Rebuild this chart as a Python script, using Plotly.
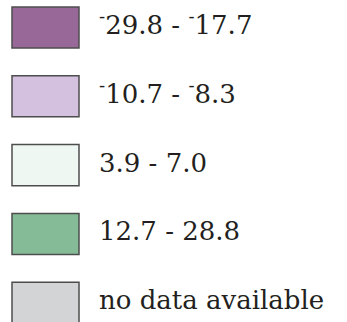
import plotly.graph_objects as go

# legend classes (top to bottom)
labels = [
    "<sup>-</sup>29.8 - <sup>-</sup>17.7",
    "<sup>-</sup>10.7 - <sup>-</sup>8.3",
    "3.9 - 7.0",
    "12.7 - 28.8",
    "no data available",
]
colors = ["#976898", "#d4c1df", "#eff7f2", "#86bb98", "#d3d4d6"]
keys = ["c1", "c2", "c3", "c4", "c5"]
swatch_len = [67, 67, 67, 67, 67]
text_x = [99, 99, 99, 99, 99]

fig = go.Figure()
fig.add_trace(go.Bar(
    y=keys, x=swatch_len, base=12,
    orientation="h",
    width=0.596,
    marker=dict(color=colors, line=dict(color="#4d4d4d", width=1.5)),
    hoverinfo="skip",
    showlegend=False,
))
fig.add_trace(go.Scatter(
    y=keys, x=text_x,
    mode="text", text=labels,
    textposition="middle right",
    textfont=dict(family="DejaVu Serif", size=26, color="#231f20"),
    hoverinfo="skip",
    showlegend=False,
))

fig.update_layout(
    width=347, height=322,
    margin=dict(l=0, r=0, t=0, b=0),
    paper_bgcolor="white", plot_bgcolor="white",
    xaxis=dict(range=[0, 347], visible=False, fixedrange=True),
    yaxis=dict(type="category", range=[4.28, -0.40], visible=False, fixedrange=True),
)
fig.write_html("out.html", config={"displayModeBar": False},
               post_script="document.body.style.margin='0';")
